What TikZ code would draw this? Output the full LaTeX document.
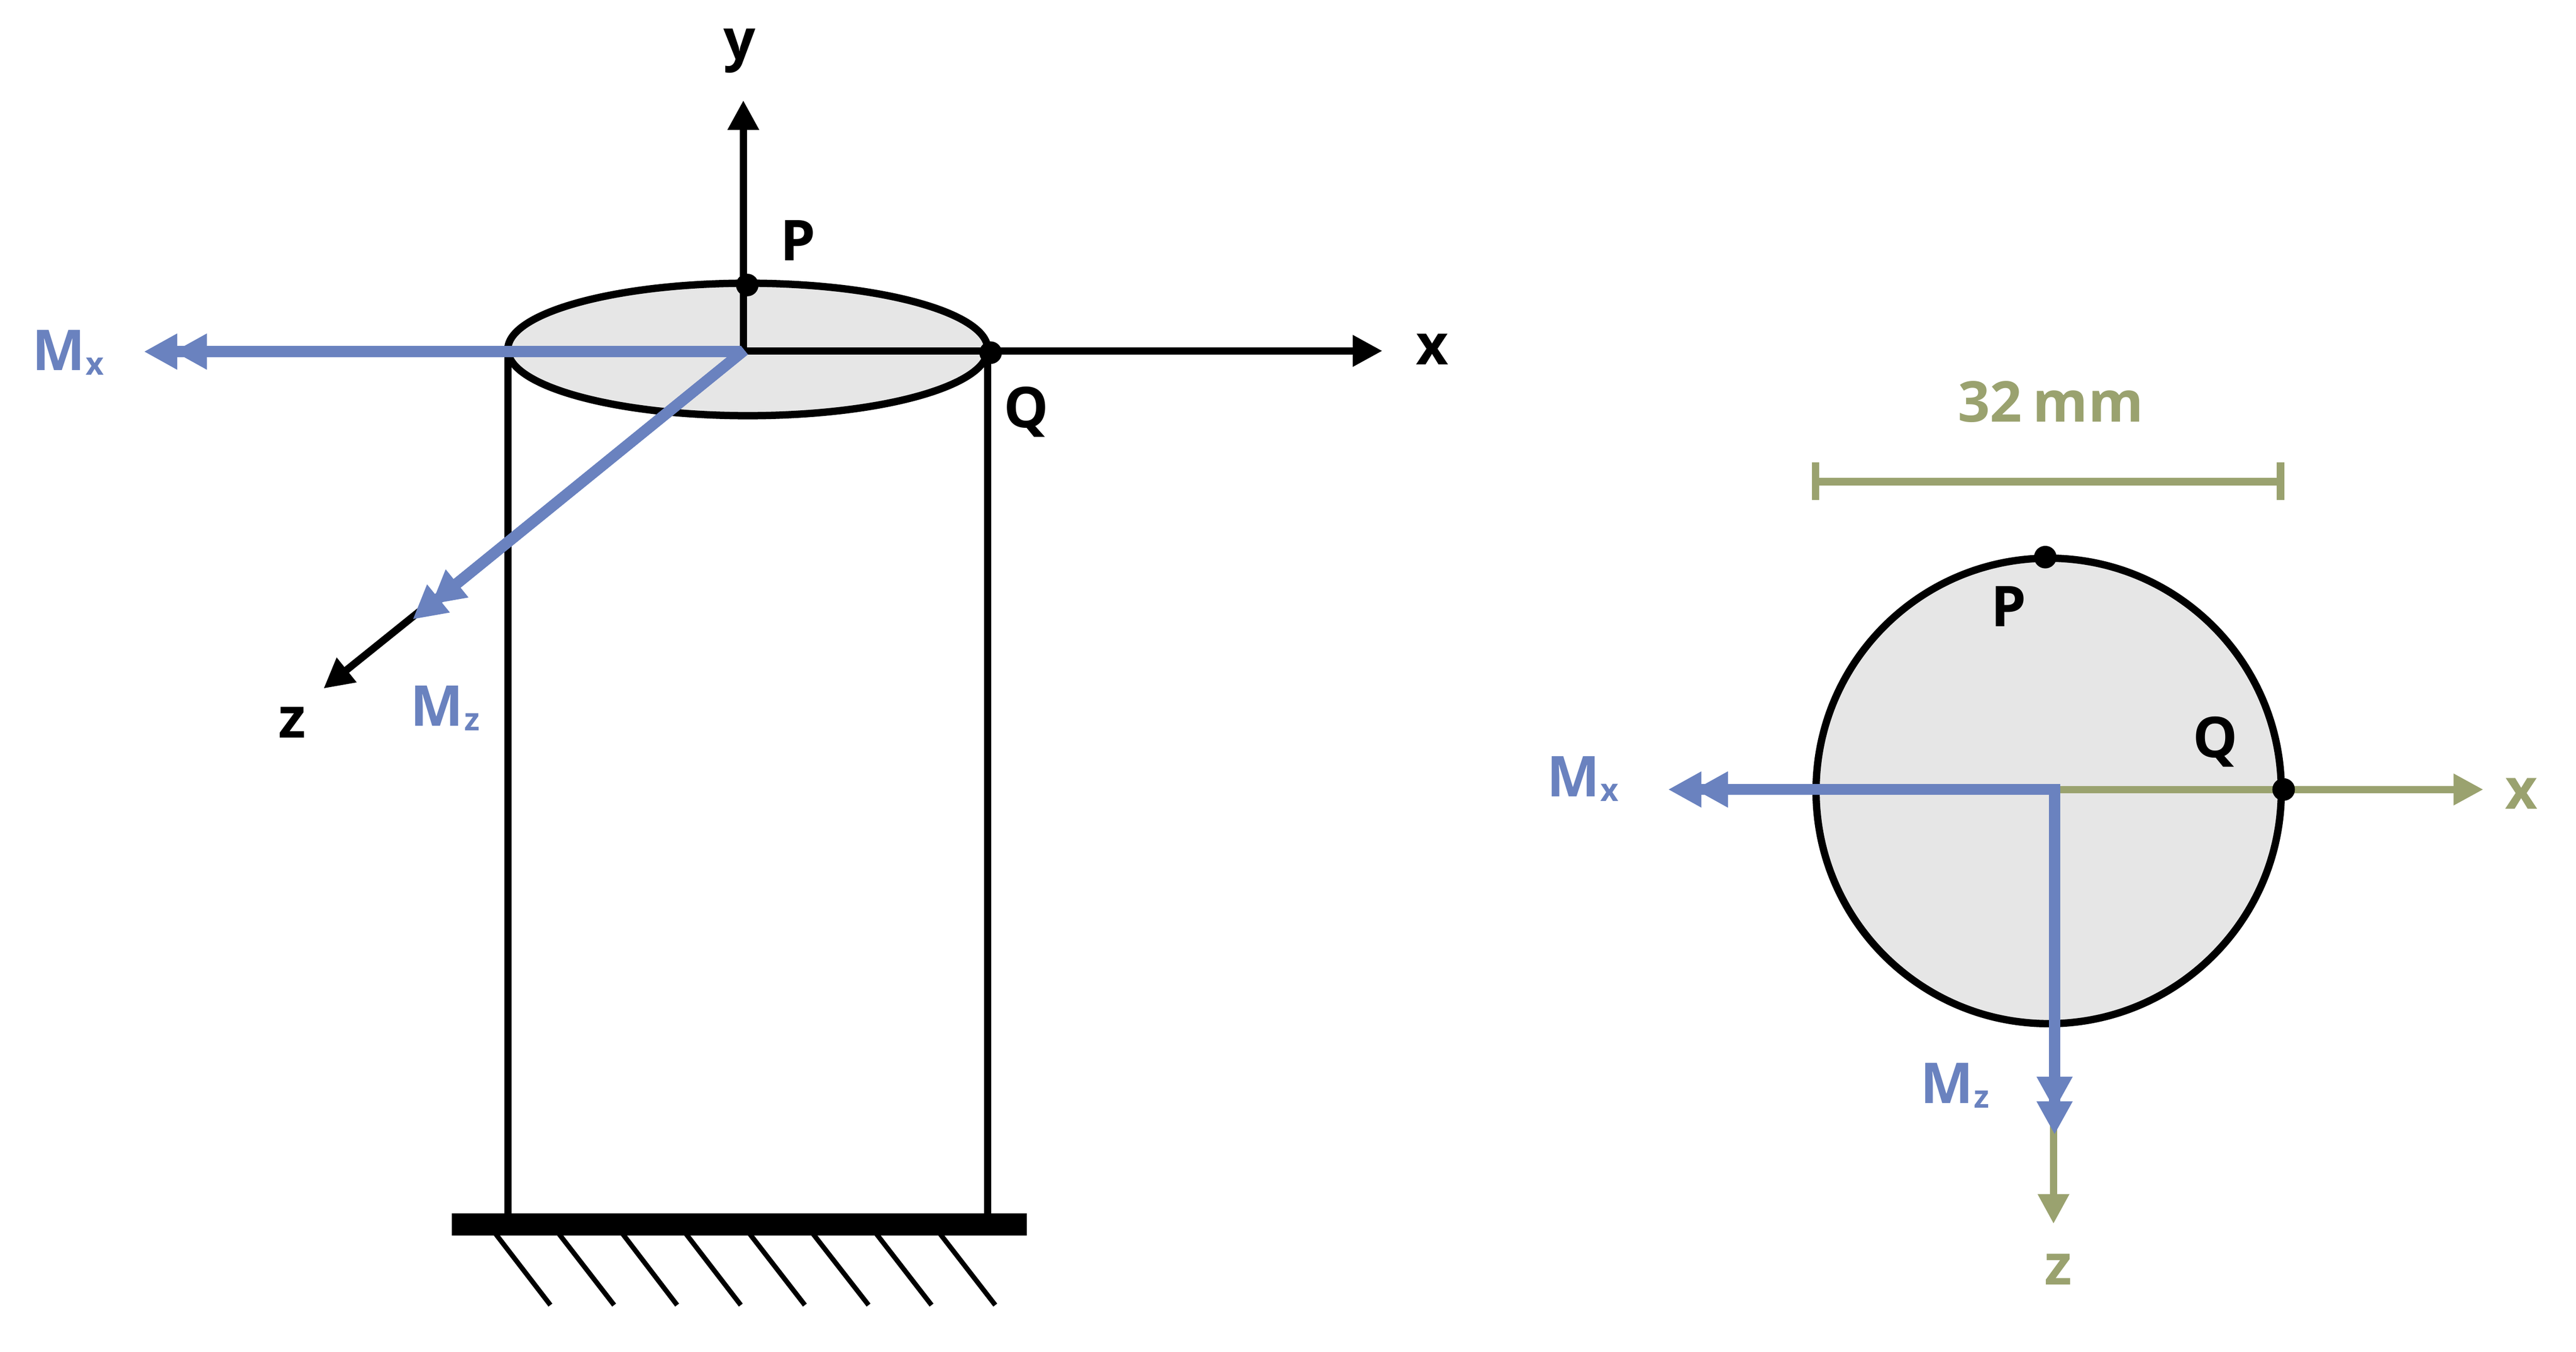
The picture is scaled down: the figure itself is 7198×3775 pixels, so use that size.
\documentclass[tikz,border=0pt]{standalone}
\usepackage{fontspec}
\setmainfont{Open Sans}
\usetikzlibrary{arrows.meta}
\definecolor{mblue}{HTML}{6A82BF}
\definecolor{mgreen}{HTML}{9AA26F}
\definecolor{mgrey}{HTML}{E6E6E6}
\newcommand{\lab}[1]{{\fontsize{44.7}{50}\selectfont\bfseries #1}}
\newcommand{\moment}[1]{{\fontsize{44.7}{50}\selectfont\bfseries M\kern0.02cm\raisebox{-0.13cm}{\fontsize{25}{28}\selectfont #1}}}
\tikzset{
  x=0.01cm,y=-0.01cm,
  lbl/.style={inner sep=0pt,outer sep=0pt,anchor=center},
  mlbl/.style={inner sep=0pt,outer sep=0pt,anchor=base west,text=mblue},
  dotb/.style={circle,fill=black,inner sep=0pt,minimum size=0.63cm},
  thickb/.style={line width=0.205cm,draw=black},
  hatchl/.style={line width=0.137cm,draw=black},
  axb/.style={thickb,-{Triangle[length=0.83cm,width=0.83cm]}},
  axg/.style={line width=0.2cm,draw=mgreen,-{Triangle[length=0.83cm,width=0.83cm]}},
  blueln/.style={line width=0.31cm,draw=mblue,-{Triangle[length=0.93cm,width=0.94cm]}},
  dimg/.style={line width=0.21cm,draw=mgreen},
}
\begin{document}
\begin{tikzpicture}
\useasboundingbox (0,0) rectangle (7198,3775);
% ---------- left: cylinder
\coordinate (O) at (2080,978);
\coordinate (Ox) at (2067,980);
\coordinate (Oy) at (2077,990);
\coordinate (Omx) at (2072,982);
\coordinate (ytip) at (2077,280);
\coordinate (xtip) at (3863,980);
\coordinate (ztip) at (904,1923);
\coordinate (mxtipA) at (402,982);
\coordinate (mxtipB) at (485,982);
\coordinate (mztipA) at (1153,1730);
\coordinate (mztipB) at (1205,1688);
\coordinate (cylLtop) at (1419,980);
\coordinate (cylRtop) at (2760,980);
\coordinate (cylLbot) at (1419,3400);
\coordinate (cylRbot) at (2760,3400);

\draw[thickb,fill=mgrey] (2089.5,976) ellipse [x radius=670.5,y radius=185];
\draw[thickb] (cylLtop) -- (cylLbot);
\draw[thickb] (cylRtop) -- (cylRbot);
\fill[black] (1262,3389) rectangle (2869,3451);
\foreach \a/\b in {1384/1538,1561/1716,1739/1892,1916/2070,2094/2249,2271/2427,2448/2603,2626/2781}
  \draw[hatchl] (\a,3445) -- (\b,3645);

\draw[axb] (Oy) -- (ytip);
\draw[axb] (Ox) -- (xtip);
\draw[axb] (O) -- (ztip);
\draw[blueln] (Omx) -- (mxtipA);
\draw[blueln] (Omx) -- (mxtipB);
\draw[blueln] (O) -- (mztipA);
\draw[blueln] (O) -- (mztipB);

\node[dotb] (Pleft) at (2088,796) {};
\node[dotb] (Qleft) at (2768,985) {};

\node[lbl] (ylab) at (2066,142) {\lab{y}};
\node[lbl] (xlab) at (4002,975) {\lab{x}};
\node[lbl] (zlab) at (816,2018) {\lab{z}};
\node[lbl] (Plab) at (2229,671) {\lab{P}};
\node[lbl] (Qlab) at (2868,1150) {\lab{Q}};
\node[mlbl] (Mxleft) at (90,1034) {\moment{x}};
\node[mlbl] (Mzleft) at (1147,2027) {\moment{z}};

% ---------- right: section
\coordinate (C) at (5741,2205);
\coordinate (gxtip) at (6939,2205);
\coordinate (gztip) at (5738,3418);
\coordinate (gzstart) at (5738,2800);
\coordinate (rmxA) at (4661,2205);
\coordinate (rmxB) at (4735,2205);
\coordinate (rmzA) at (5741,3169);
\coordinate (rmzB) at (5741,3100);
\coordinate (dimL) at (5073,1345);
\coordinate (dimR) at (6372,1345);

\draw[thickb,fill=mgrey] (5724.5,2209) circle [radius=650];
\draw[axg] (C) -- (gxtip);
\draw[axg] (gzstart) -- (gztip);
\draw[blueln] ([xshift=0.16cm]C) -- (rmxA);
\draw[blueln] ([xshift=0.16cm]C) -- (rmxB);
\draw[blueln] ([yshift=0.15cm]C) -- (rmzA);
\draw[blueln] ([yshift=0.15cm]C) -- (rmzB);

\draw[dimg] (dimL) -- (dimR);
\draw[dimg] (5073,1291) -- (5073,1396);
\draw[dimg] (6372,1291) -- (6372,1396);

\node[dotb] (Pright) at (5715,1556) {};
\node[dotb] (Qright) at (6381,2205) {};

\node[lbl,text=mgreen] (dimlab) at (5730,1122) {\lab{32\kern0.3cm mm}};
\node[lbl,text=mgreen] (rxlab) at (7045,2216) {\lab{x}};
\node[lbl,text=mgreen] (rzlab) at (5751,3545) {\lab{z}};
\node[lbl] (rPlab) at (5613,1694) {\lab{P}};
\node[lbl] (rQlab) at (6190,2072) {\lab{Q}};
\node[mlbl] (Mxright) at (4322,2225) {\moment{x}};
\node[mlbl] (Mzright) at (5366,3082) {\moment{z}};
\end{tikzpicture}
\end{document}
